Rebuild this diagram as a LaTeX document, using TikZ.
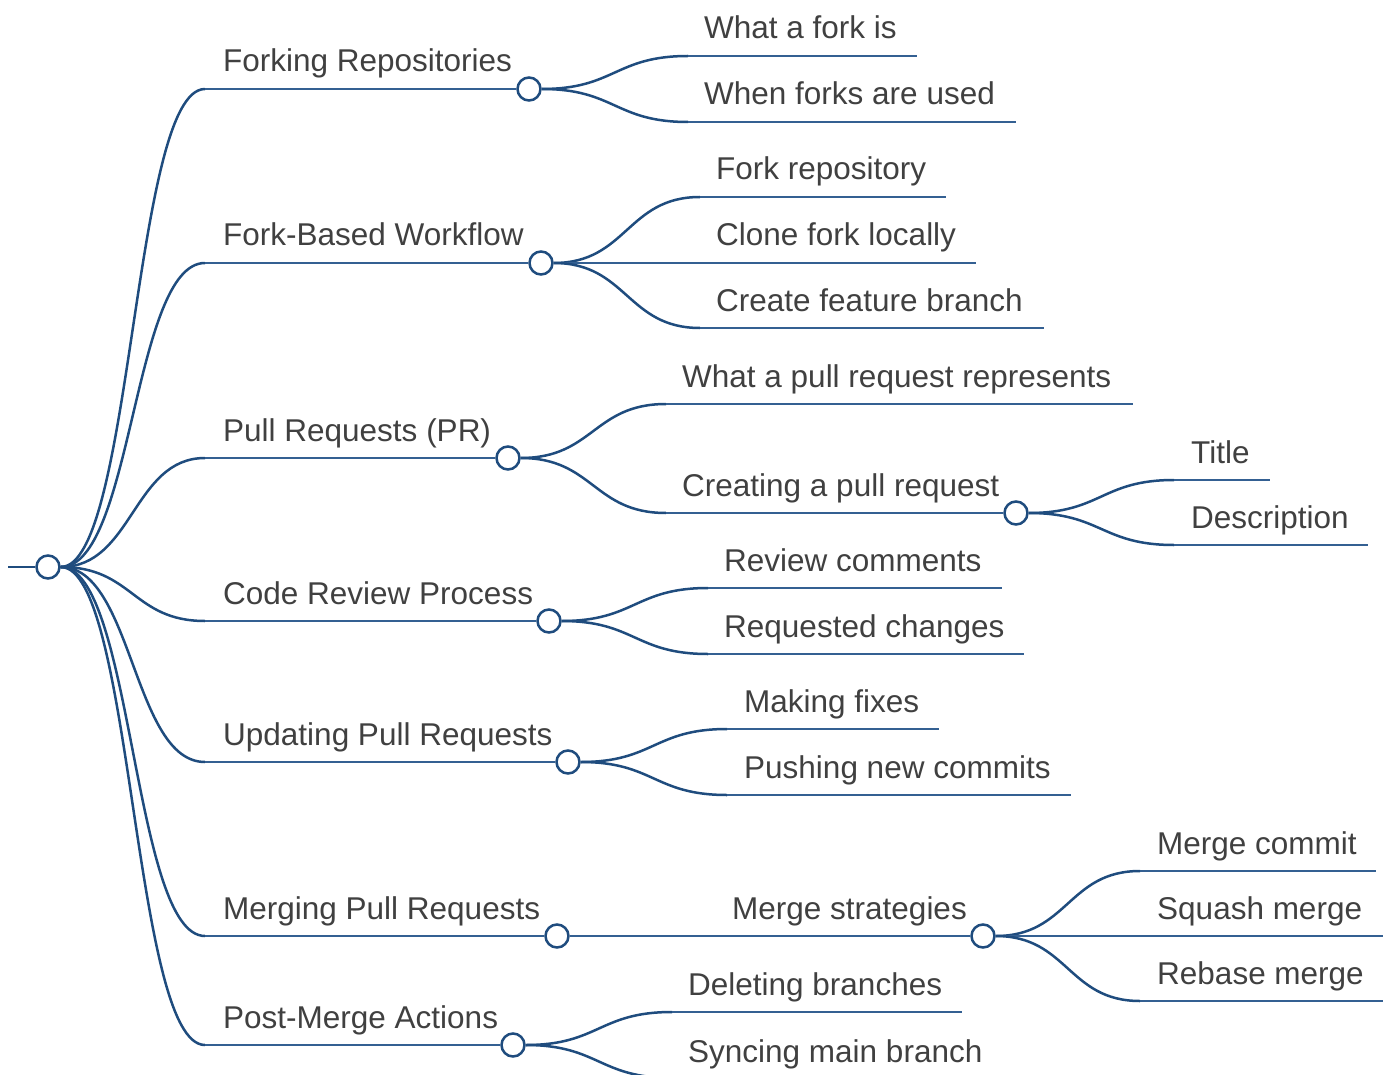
\documentclass[tikz,border=0pt]{standalone}
\usepackage{fontspec}
\setmainfont{Liberation Sans}
\usetikzlibrary{calc}
\definecolor{mmblue}{RGB}{31,76,126}
\definecolor{mmbar}{RGB}{52,96,146}
\definecolor{mmtext}{RGB}{64,64,64}
\begin{document}
\begin{tikzpicture}[x=1pt,y=-1pt,
  hub/.style={circle,draw=mmblue,fill=white,line width=2.5pt,minimum size=23pt,inner sep=0pt},
  lbl/.style={anchor=base west,text=mmtext,inner sep=0pt,font=\fontsize{31.5}{36}\selectfont},
  link/.style={draw=mmblue,line width=2.5pt},
  bar/.style={draw=mmbar,line width=2.5pt},
  branch/.style={to path={let \p1=(\tikztostart), \p2=(\tikztotarget) in
    .. controls ({(\x1+\x2)/2},\y1) and ({(\x1+\x2)/2},\y2) .. (\tikztotarget)}}]
\useasboundingbox (0,0) rectangle (1389,1075);
\clip (0,0) rectangle (1389,1075);

% ---- root ----
\coordinate (stub) at (8,567);
\node[hub] (root) at (48,567) {};

% ---- first level: curve end points and labels ----
\coordinate (s1) at (205,89);
\coordinate (s2) at (205,263);
\coordinate (s3) at (205,458);
\coordinate (s4) at (205,621);
\coordinate (s5) at (205,762);
\coordinate (s6) at (205,936);
\coordinate (s7) at (205,1045);

\node[lbl] (t1) at (223,72)   {Forking Repositories};
\node[lbl] (t2) at (223,246)  {Fork-Based Workflow};
\node[lbl] (t3) at (223,441)  {Pull Requests (PR)};
\node[lbl] (t4) at (223,604)  {Code Review Process};
\node[lbl] (t5) at (223,745)  {Updating Pull Requests};
\node[lbl] (t6) at (223,919)  {Merging Pull Requests};
\node[lbl] (t7) at (223,1028) {Post-Merge Actions};

% ---- second level ----
% Forking Repositories
\coordinate (a1s) at (688,56);  \coordinate (a1e) at (917,56);
\coordinate (a2s) at (688,122); \coordinate (a2e) at (1016,122);
\node[lbl] (ta1) at (704,39)  {What a fork is};
\node[lbl] (ta2) at (704,105) {When forks are used};
% Fork-Based Workflow
\coordinate (b1s) at (700,197); \coordinate (b1e) at (946,197);
\coordinate (b2e) at (976,263);
\coordinate (b3s) at (700,328); \coordinate (b3e) at (1044,328);
\node[lbl] (tb1) at (716,180) {Fork repository};
\node[lbl] (tb2) at (716,246) {Clone fork locally};
\node[lbl] (tb3) at (716,311) {Create feature branch};
% Pull Requests
\coordinate (c1s) at (666,404); \coordinate (c1e) at (1133,404);
\coordinate (c2s) at (666,513);
\node[lbl] (tc1) at (682,387) {What a pull request represents};
\node[lbl] (tc2) at (682,496) {Creating a pull request};
\coordinate (d1s) at (1174,480); \coordinate (d1e) at (1270,480);
\coordinate (d2s) at (1174,545); \coordinate (d2e) at (1368,545);
\node[lbl] (td1) at (1191,463) {Title};
\node[lbl] (td2) at (1191,528) {Description};
% Code Review Process
\coordinate (e1s) at (708,588); \coordinate (e1e) at (1002,588);
\coordinate (e2s) at (708,654); \coordinate (e2e) at (1024,654);
\node[lbl] (te1) at (724,571) {Review comments};
\node[lbl] (te2) at (724,637) {Requested changes};
% Updating Pull Requests
\coordinate (f1s) at (727,729); \coordinate (f1e) at (939,729);
\coordinate (f2s) at (727,795); \coordinate (f2e) at (1071,795);
\node[lbl] (tf1) at (744,712) {Making fixes};
\node[lbl] (tf2) at (744,778) {Pushing new commits};
% Merging Pull Requests
\node[lbl] (tg1) at (732,919) {Merge strategies};
\coordinate (h1s) at (1140,871); \coordinate (h1e) at (1376,871);
\coordinate (h2e) at (1383,936);
\coordinate (h3s) at (1140,1001); \coordinate (h3e) at (1383,1001);
\node[lbl] (th1) at (1157,854) {Merge commit};
\node[lbl] (th2) at (1157,919) {Squash merge};
\node[lbl] (th3) at (1157,984) {Rebase merge};
% Post-Merge Actions
\coordinate (i1s) at (672,1012); \coordinate (i1e) at (962,1012);
\coordinate (i2s) at (672,1078); \coordinate (i2e) at (1000,1078);
\node[lbl] (ti1) at (688,995)  {Deleting branches};
\node[lbl] (ti2) at (688,1062) {Syncing main branch};

% ---- hubs at the underline ends ----
\node[hub] (h1) at (529,89)  {};
\node[hub] (h2) at (541,263) {};
\node[hub] (h3) at (508,458) {};
\node[hub] (h4) at (549,621) {};
\node[hub] (h5) at (568,762) {};
\node[hub] (h6) at (557,936) {};
\node[hub] (h7) at (513,1045) {};
\node[hub] (hc2) at (1016,513) {};
\node[hub] (hg1) at (983,936) {};

% ---- connectors ----
\draw[link] (stub) -- (root.west);
\foreach \k in {1,...,7} {
  \draw[link] (root.east) to[branch] (s\k);
  \draw[bar] (s\k) -- (h\k.west);
}
% Forking Repositories
\draw[link] (h1.east) to[branch] (a1s); \draw[bar] (a1s) -- (a1e);
\draw[link] (h1.east) to[branch] (a2s); \draw[bar] (a2s) -- (a2e);
% Fork-Based Workflow
\draw[link] (h2.east) to[branch] (b1s); \draw[bar] (b1s) -- (b1e);
\draw[bar]  (h2.east) -- (b2e);
\draw[link] (h2.east) to[branch] (b3s); \draw[bar] (b3s) -- (b3e);
% Pull Requests
\draw[link] (h3.east) to[branch] (c1s); \draw[bar] (c1s) -- (c1e);
\draw[link] (h3.east) to[branch] (c2s); \draw[bar] (c2s) -- (hc2.west);
\draw[link] (hc2.east) to[branch] (d1s); \draw[bar] (d1s) -- (d1e);
\draw[link] (hc2.east) to[branch] (d2s); \draw[bar] (d2s) -- (d2e);
% Code Review Process
\draw[link] (h4.east) to[branch] (e1s); \draw[bar] (e1s) -- (e1e);
\draw[link] (h4.east) to[branch] (e2s); \draw[bar] (e2s) -- (e2e);
% Updating Pull Requests
\draw[link] (h5.east) to[branch] (f1s); \draw[bar] (f1s) -- (f1e);
\draw[link] (h5.east) to[branch] (f2s); \draw[bar] (f2s) -- (f2e);
% Merging Pull Requests
\draw[bar]  (h6.east) -- (hg1.west);
\draw[link] (hg1.east) to[branch] (h1s); \draw[bar] (h1s) -- (h1e);
\draw[bar]  (hg1.east) -- (h2e);
\draw[link] (hg1.east) to[branch] (h3s); \draw[bar] (h3s) -- (h3e);
% Post-Merge Actions
\draw[link] (h7.east) to[branch] (i1s); \draw[bar] (i1s) -- (i1e);
\draw[link] (h7.east) to[branch] (i2s); \draw[bar] (i2s) -- (i2e);
\end{tikzpicture}
\end{document}
